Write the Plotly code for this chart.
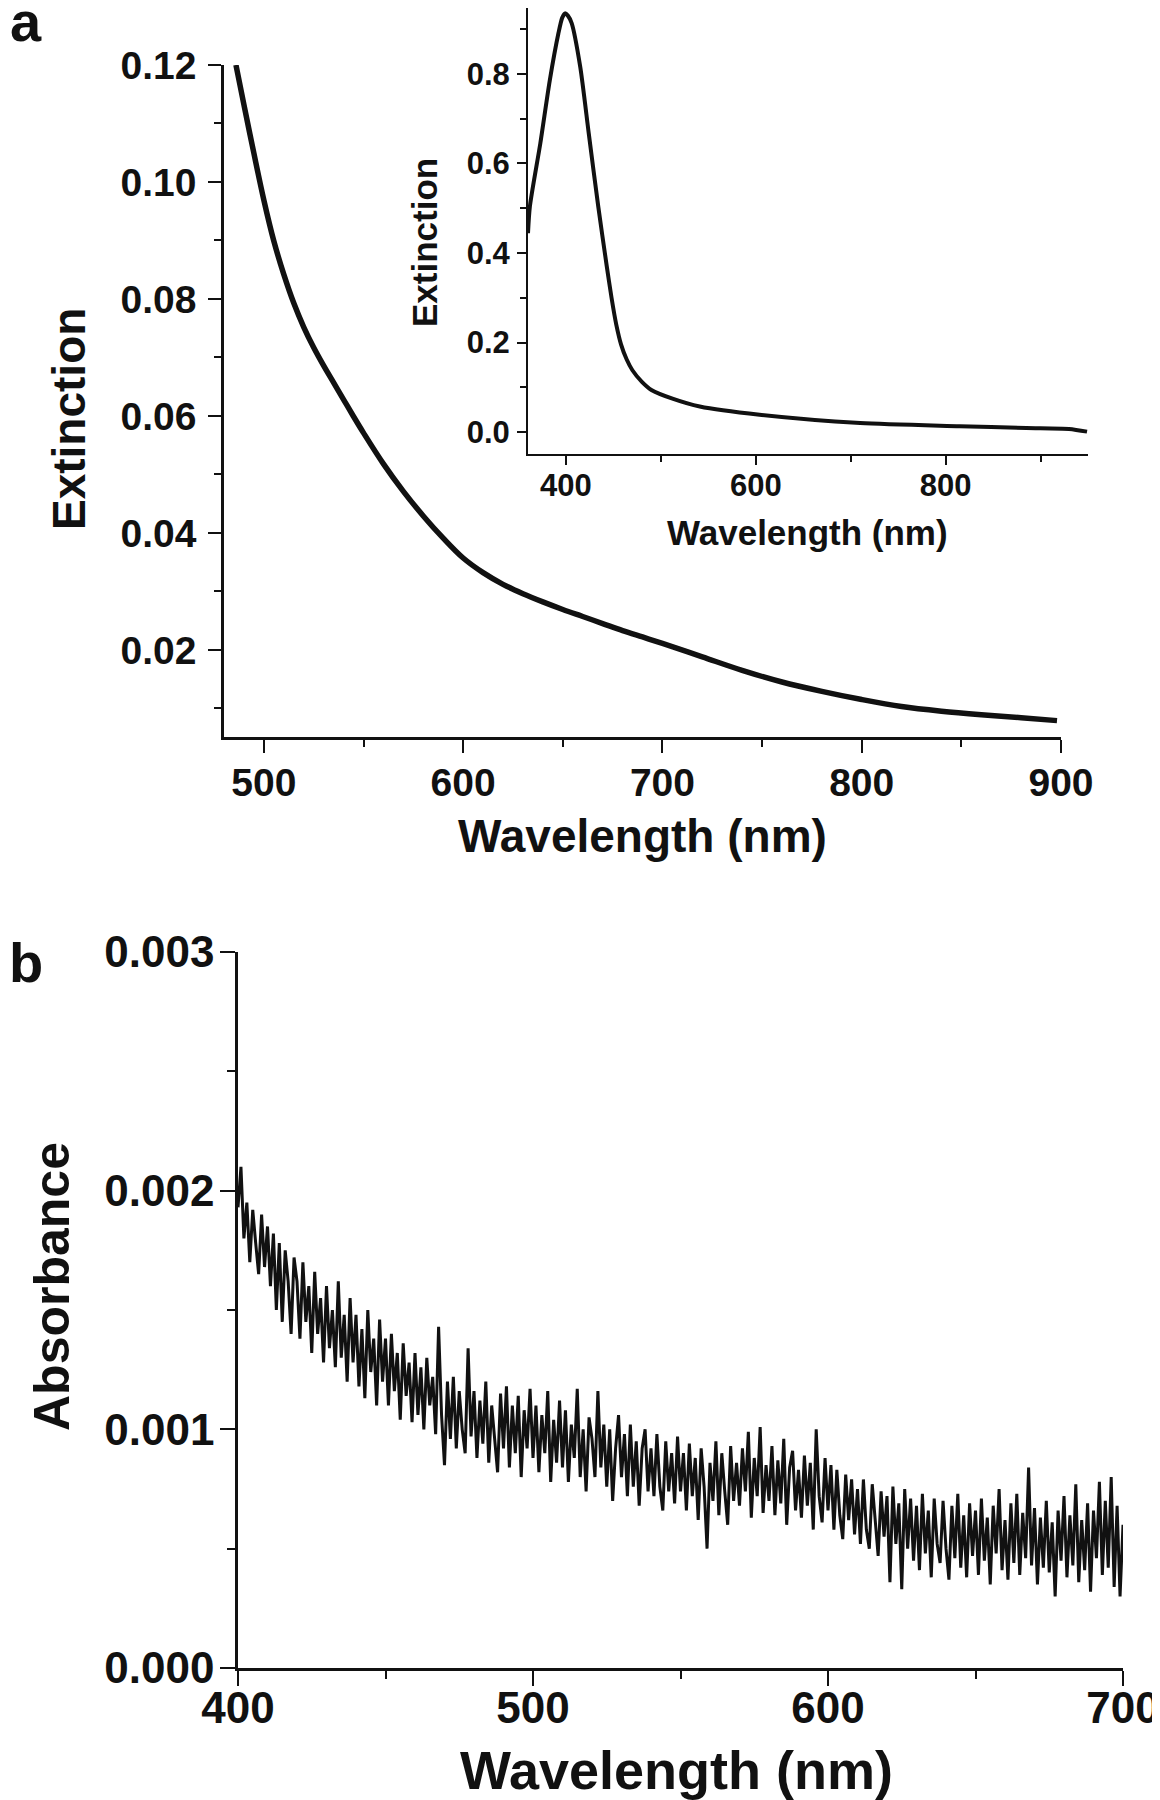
import plotly.graph_objects as go

# ---------------- data ----------------
# Panel a (main): extinction vs wavelength
a_wavelength = [486, 490, 495, 500, 505, 510, 515, 520, 525, 530, 535, 540, 545,
                550, 560, 570, 580, 590, 600, 610, 620, 630, 640, 650, 660, 670,
                680, 690, 700, 720, 740, 760, 780, 800, 820, 840, 860, 880, 898]
a_extinction = [0.1200, 0.1132, 0.1049, 0.0969, 0.0899, 0.0842, 0.0793, 0.0752,
                0.0717, 0.0686, 0.0657, 0.0628, 0.0599, 0.0571, 0.0518, 0.0471,
                0.0429, 0.0391, 0.0357, 0.0332, 0.0312, 0.0296, 0.0282, 0.0269,
                0.0257, 0.0245, 0.0233, 0.0222, 0.0211, 0.0188, 0.0165, 0.0145,
                0.0129, 0.0115, 0.0103, 0.0095, 0.0089, 0.0084, 0.0079]

# Panel a (inset): full extinction spectrum
inset_wavelength = [360, 362, 373, 383, 392, 396, 399, 402, 406, 415, 424, 434,
                    443, 448, 453, 458, 464, 470, 480, 490, 513, 541, 604, 710,
                    815, 885, 930, 949]
inset_extinction = [0.444, 0.504, 0.645, 0.786, 0.890, 0.925, 0.935, 0.930, 0.913,
                    0.816, 0.667, 0.504, 0.370, 0.300, 0.240, 0.196, 0.162, 0.138,
                    0.112, 0.094, 0.074, 0.057, 0.0386, 0.020, 0.013, 0.009, 0.007,
                    0.001]

# Panel b: absorbance, 400-700 nm, 1 nm step
b_wavelength = list(range(400, 701))
b_absorbance = [
    0.00193, 0.00210, 0.00180, 0.00195, 0.00170, 0.00192, 0.00178, 0.00165, 0.00190, 0.00168,
    0.00185, 0.00160, 0.00182, 0.00150, 0.00178, 0.00145, 0.00175, 0.00162, 0.00140, 0.00172,
    0.00162, 0.00138, 0.00170, 0.00145, 0.00160, 0.00132, 0.00166, 0.00140, 0.00155, 0.00128,
    0.00160, 0.00134, 0.00150, 0.00126, 0.00162, 0.00130, 0.00148, 0.00120, 0.00155, 0.00128,
    0.00148, 0.00118, 0.00142, 0.00113, 0.00150, 0.00124, 0.00138, 0.00110, 0.00146, 0.00120,
    0.00138, 0.00110, 0.00140, 0.00116, 0.00132, 0.00104, 0.00136, 0.00114, 0.00128, 0.00103,
    0.00132, 0.00106, 0.00126, 0.00100, 0.00130, 0.00110, 0.00122, 0.00098, 0.00143, 0.00106,
    0.00085, 0.00120, 0.00096, 0.00122, 0.00092, 0.00116, 0.00100, 0.00090, 0.00134, 0.00097,
    0.00116, 0.00088, 0.00112, 0.00094, 0.00120, 0.00086, 0.00110, 0.00096, 0.00082, 0.00115,
    0.00092, 0.00118, 0.00084, 0.00110, 0.00090, 0.00114, 0.00080, 0.00108, 0.00092, 0.00117,
    0.00088, 0.00110, 0.00082, 0.00106, 0.00090, 0.00116, 0.00078, 0.00104, 0.00086, 0.00112,
    0.00084, 0.00108, 0.00078, 0.00102, 0.00088, 0.00117, 0.00080, 0.00100, 0.00074, 0.00105,
    0.00096, 0.00080, 0.00116, 0.00084, 0.00102, 0.00076, 0.00100, 0.00070, 0.00092, 0.00106,
    0.00080, 0.00098, 0.00072, 0.00102, 0.00076, 0.00095, 0.00068, 0.00092, 0.00100, 0.00074,
    0.00092, 0.00072, 0.00098, 0.00076, 0.00066, 0.00095, 0.00074, 0.00090, 0.00069, 0.00097,
    0.00074, 0.00090, 0.00066, 0.00094, 0.00072, 0.00088, 0.00062, 0.00092, 0.00076, 0.00050,
    0.00086, 0.00070, 0.00095, 0.00064, 0.00090, 0.00074, 0.00060, 0.00093, 0.00070, 0.00086,
    0.00068, 0.00092, 0.00074, 0.00099, 0.00063, 0.00088, 0.00072, 0.00101, 0.00065, 0.00085,
    0.00070, 0.00093, 0.00064, 0.00087, 0.00069, 0.00096, 0.00060, 0.00084, 0.00091, 0.00066,
    0.00083, 0.00063, 0.00089, 0.00068, 0.00086, 0.00058, 0.00100, 0.00072, 0.00061, 0.00088,
    0.00066, 0.00085, 0.00058, 0.00083, 0.00064, 0.00054, 0.00081, 0.00062, 0.00079, 0.00056,
    0.00075, 0.00052, 0.00079, 0.00058, 0.00050, 0.00077, 0.00060, 0.00047, 0.00074, 0.00055,
    0.00072, 0.00036, 0.00076, 0.00052, 0.00069, 0.00033, 0.00075, 0.00050, 0.00071, 0.00045,
    0.00068, 0.00041, 0.00073, 0.00048, 0.00066, 0.00038, 0.00071, 0.00052, 0.00044, 0.00070,
    0.00050, 0.00037, 0.00068, 0.00046, 0.00073, 0.00042, 0.00064, 0.00038, 0.00069, 0.00047,
    0.00066, 0.00039, 0.00071, 0.00045, 0.00063, 0.00035, 0.00068, 0.00048, 0.00075, 0.00041,
    0.00062, 0.00037, 0.00069, 0.00044, 0.00073, 0.00039, 0.00065, 0.00046, 0.00084, 0.00043,
    0.00067, 0.00035, 0.00063, 0.00042, 0.00070, 0.00040, 0.00061, 0.00030, 0.00066, 0.00045,
    0.00072, 0.00038, 0.00064, 0.00043, 0.00077, 0.00036, 0.00062, 0.00041, 0.00069, 0.00032,
    0.00066, 0.00046, 0.00078, 0.00039, 0.00070, 0.00042, 0.00080, 0.00034, 0.00068, 0.00030,
    0.00060,
]

# ---------------- figure ----------------
W, H = 1160, 1800
PAGE_OFFSET = 8  # default body margin of the html page
FONT = "Liberation Sans, Arial, Helvetica, sans-serif"
INK = "#111111"


def px_x(p):
    return (p - PAGE_OFFSET) / W


def px_y(p):
    return min(1.0, 1 - (p - PAGE_OFFSET) / H)


fig = go.Figure()
fig.add_trace(go.Scatter(x=a_wavelength, y=a_extinction, mode="lines",
                         line=dict(color=INK, width=5.5, shape="spline", smoothing=1.0),
                         xaxis="x", yaxis="y", showlegend=False))
fig.add_trace(go.Scatter(x=inset_wavelength, y=inset_extinction, mode="lines",
                         line=dict(color=INK, width=4, shape="spline", smoothing=0.7),
                         xaxis="x3", yaxis="y3", showlegend=False))
fig.add_trace(go.Scatter(x=b_wavelength, y=b_absorbance, mode="lines",
                         line=dict(color=INK, width=3),
                         xaxis="x2", yaxis="y2", showlegend=False))


def axis(domain, rng, dtick, minor, fmt, size, anchor, standoff, lw=2.5,
         ticklen=13, minorlen=7):
    return dict(domain=domain, range=rng, dtick=dtick, tick0=0, tickformat=fmt,
                automargin=False,
                showgrid=False, zeroline=False, showline=True, linecolor=INK,
                linewidth=lw, ticks="outside", ticklen=ticklen, tickwidth=2,
                tickcolor=INK, anchor=anchor, ticklabelstandoff=standoff,
                tickfont=dict(family=FONT, size=size, color=INK, weight="bold"),
                minor=dict(dtick=minor, ticks="outside", ticklen=minorlen,
                           tickwidth=2, tickcolor=INK, showgrid=False))


layout = dict(
    width=W, height=H, margin=dict(l=0, r=0, t=0, b=0, autoexpand=False),
    paper_bgcolor="white", plot_bgcolor="rgba(0,0,0,0)",
    xaxis=axis([px_x(224), px_x(1061)], [480, 900], 100, 50, "d", 39, "y", -4),
    yaxis=axis([px_y(737), px_y(65)], [0.0051, 0.12], 0.02, 0.01, ".2f", 39, "x", 4),
    xaxis3=axis([px_x(528), px_x(1088)], [360, 950], 200, 100, "d", 31, "y3", -6,
                lw=2, ticklen=9, minorlen=6),
    yaxis3=axis([px_y(454), px_y(0)], [-0.049, 0.947], 0.2, 0.1, ".1f", 31, "x3", 1,
                lw=2, ticklen=9, minorlen=6),
    xaxis2=axis([px_x(238), px_x(1123)], [400, 700], 100, 50, "d", 44, "y2", -16,
                ticklen=15, minorlen=8),
    yaxis2=axis([px_y(1668), px_y(952)], [0, 0.003], 0.001, 0.0005, ".3f", 44, "x2", -3,
                ticklen=15, minorlen=8),
)
fig.update_layout(**layout)


def label(text, x, y, size, angle=0):
    fig.add_annotation(text=text, x=px_x(x), y=px_y(y), xref="paper", yref="paper",
                       showarrow=False, textangle=angle, xanchor="center",
                       yanchor="middle",
                       font=dict(family=FONT, size=size, color=INK, weight="bold"))


label("a", 26, 22, 56)
label("b", 26, 962, 56)
label("Extinction", 69, 419, 46, -90)
label("Wavelength (nm)", 642, 836, 46)
label("Extinction", 425, 243, 35, -90)
label("Wavelength (nm)", 807, 532, 35)
label("Absorbance", 52, 1287, 50, -90)
label("Wavelength (nm)", 676, 1770, 54)

fig.write_html("out.html")
